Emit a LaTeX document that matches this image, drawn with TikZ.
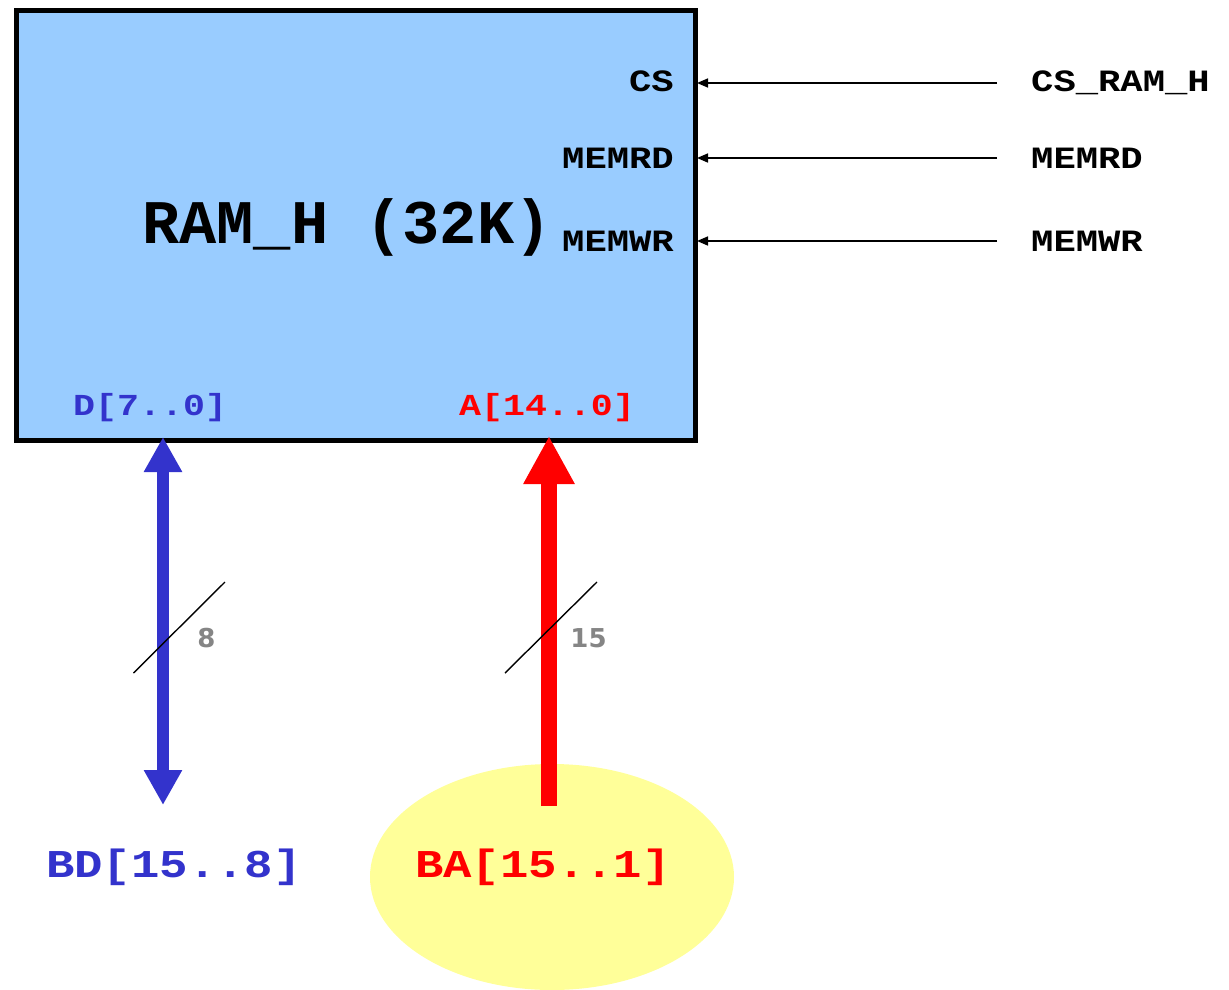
\documentclass[tikz,border=0pt]{standalone}
\usepackage{fontspec}
\usetikzlibrary{arrows.meta,shapes.geometric}
\newfontfamily\courfont{Liberation Mono}
\newfontfamily\courwide{Liberation Mono}[FakeStretch=1.2]
\newfontfamily\grfont{DejaVu Sans}
\definecolor{boxblue}{HTML}{99CCFF}
\definecolor{busblue}{HTML}{3333CC}
\definecolor{busred}{HTML}{FF0000}
\definecolor{pale}{HTML}{FFFF99}
\definecolor{numgrey}{HTML}{858585}
\tikzset{
  pin/.style={font=\courwide\bfseries\fontsize{31}{34}\selectfont, inner sep=0pt},
  buspin/.style={font=\courwide\bfseries\fontsize{30.5}{33}\selectfont, inner sep=0pt},
  sig/.style={line width=1.6pt, -{Triangle[length=11pt,width=9pt]}, shorten >=-1pt},
  slash/.style={line width=1.4pt, black},
  buswidth/.style={font=\grfont\bfseries\fontsize{26}{28}\selectfont, text=numgrey, inner sep=0pt},
  busname/.style={font=\courwide\bfseries\fontsize{39.4}{42}\selectfont, inner sep=0pt},
}
\begin{document}
\begin{tikzpicture}[x=1pt,y=-1pt]
\useasboundingbox (0,0) rectangle (1229,990);
% ellipse behind
\node[ellipse, fill=pale, minimum width=364pt, minimum height=226pt, inner sep=0pt] (ba) at (552,877) {};
% main box
\node[draw, line width=5pt, fill=boxblue, minimum width=679pt, minimum height=430pt, inner sep=0pt, anchor=north west] (ram) at (14,8) {};
\node[font=\courfont\bfseries\fontsize{62}{66}\selectfont, inner sep=0pt, anchor=base west] (title) at (142,243) {RAM\_H (32K)};
% pins
\node[pin, anchor=base east] (cs) at (674,92) {CS};
\node[pin, anchor=base east] (rd) at (674,168) {MEMRD};
\node[pin, anchor=base east] (wr) at (674,251) {MEMWR};
\node[buspin, anchor=base west, text=busblue] (d) at (73,415) {D[7..0]};
\node[buspin, anchor=base west, text=busred] (a) at (459,415) {A[14..0]};
% external signals
\node[pin, anchor=base west] (csx) at (1031,92) {CS\_RAM\_H};
\node[pin, anchor=base west] (rdx) at (1031,168) {MEMRD};
\node[pin, anchor=base west] (wrx) at (1031,251) {MEMWR};
\coordinate (csend) at (997,83);
\coordinate (rdend) at (997,158);
\coordinate (wrend) at (997,241);
\draw[sig] (csend) -- (csend -| ram.east);
\draw[sig] (rdend) -- (rdend -| ram.east);
\draw[sig] (wrend) -- (wrend -| ram.east);
% bus names
\node[busname, anchor=base west, text=busblue] (bd) at (46,877) {BD[15..8]};
\node[busname, anchor=base west, text=busred] (batxt) at (415,877) {BA[15..1]};
% buses
\coordinate (bdtop) at (163,802);
\coordinate (batop) at (549,806);
\draw[line width=12pt, busblue, {Triangle[length=35pt,width=36pt]}-{Triangle[length=35pt,width=36pt]}, shorten >=-6pt, shorten <=-3pt] (bdtop) -- (bdtop |- ram.south);
\draw[line width=16pt, busred, -{Triangle[length=48pt,width=48pt]}, shorten >=-7pt] (batop) -- (batop |- ram.south);
% bus width marks
\draw[slash] (133.5,673) -- (225,582);
\draw[slash] (505,673) -- (597,582);
\node[buswidth] (w8) at (206.5,638) {8};
\node[buswidth] (w15) at (588.5,638) {15};
\end{tikzpicture}
\end{document}
